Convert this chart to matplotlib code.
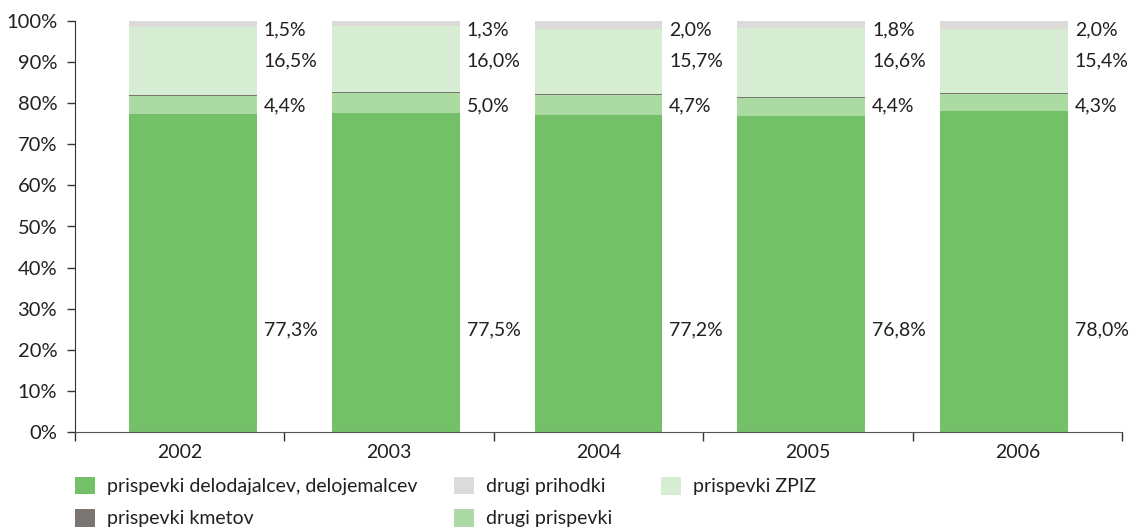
import matplotlib
matplotlib.use("Agg")
import matplotlib.pyplot as plt
from matplotlib.patches import Patch
import numpy as np

years = ["2002", "2003", "2004", "2005", "2006"]
delodajalci = [77.3, 77.5, 77.2, 76.8, 78.0]
kmetje = [0.3, 0.2, 0.4, 0.4, 0.3]
drugi_prispevki = [4.4, 5.0, 4.7, 4.4, 4.3]
zpiz = [16.5, 16.0, 15.7, 16.6, 15.4]
drugi_prihodki = [1.5, 1.3, 2.0, 1.8, 2.0]

names = {
    "del": "prispevki delodajalcev, delojemalcev",
    "kme": "prispevki kmetov",
    "dpr": "drugi prispevki",
    "zpiz": "prispevki ZPIZ",
    "dph": "drugi prihodki",
}
colors = {"del": "#74c069", "kme": "#7a7570", "dpr": "#abdba3",
          "zpiz": "#d6ecd3", "dph": "#dcdbda"}
values = {"del": delodajalci, "kme": kmetje, "dpr": drugi_prispevki,
          "zpiz": zpiz, "dph": drugi_prihodki}
stack_order = ["del", "dpr", "kme", "zpiz", "dph"]

TXT = "#231f20"
FS = 14
plt.rcParams["font.family"] = ["Lato", "DejaVu Sans"]
plt.rcParams["font.size"] = FS

W, H = 1129, 529
fig = plt.figure(figsize=(W / 100, H / 100), dpi=100)
ax = fig.add_axes([75 / W, 1 - 432 / H, 1047 / W, 411 / H])

n = len(years)
centers = 2.5 + (np.arange(n) - 2) * 0.968
width = 0.61

bottom = np.zeros(n)
for key in stack_order:
    ax.bar(centers, values[key], width=width, bottom=bottom,
           color=colors[key], linewidth=0)
    bottom += np.array(values[key])

# value labels to the right of each bar (kmetov share is not labelled)
label_y = {"del": 24.8, "dpr": 79.3, "zpiz": 90.3, "dph": 97.8}
for key, yy in label_y.items():
    for i in range(n):
        txt = f"{values[key][i]:.1f}%".replace(".", ",")
        ax.text(centers[i] + width / 2 + 0.033, yy, txt, ha="left", va="center",
                color=TXT, fontsize=FS)

ax.set_xlim(0, n)
ax.set_ylim(0, 100)
ax.set_yticks(np.arange(0, 101, 10))
ax.set_yticklabels([f"{v}%" for v in range(0, 101, 10)], color=TXT, fontsize=14.5)
ax.set_xticks(np.arange(0, n + 1))
ax.set_xticklabels([])
ax.set_xticks(np.arange(n) + 0.5, minor=True)
ax.set_xticklabels(years, minor=True, color=TXT)
ax.tick_params(axis="x", which="minor", length=0, pad=9)
ax.tick_params(axis="x", which="major", direction="out", length=6.5, width=1, color="#333333")
ax.tick_params(axis="y", direction="out", length=5.8, width=1, color="#333333", pad=7)

for s in ["top", "right"]:
    ax.spines[s].set_visible(False)
ax.spines["left"].set_color("#333333")
ax.spines["bottom"].set_color("#555555")

# legend in three columns
legend_cols = [(["del", "kme"], 75), (["dph", "dpr"], 454), (["zpiz"], 661)]
row1_y, row_gap = 486, 32
for keys, x0 in legend_cols:
    handles = [Patch(facecolor=colors[k], edgecolor="none") for k in keys]
    yc = row1_y + row_gap * (len(keys) - 1) / 2
    leg = fig.legend(handles, [names[k] for k in keys],
                     loc="center left", bbox_to_anchor=(x0 / W, 1 - yc / H),
                     frameon=False, borderpad=0, borderaxespad=0,
                     handlelength=1.03, handleheight=1.03, handletextpad=0.62,
                     labelspacing=0.7, fontsize=FS, labelcolor=TXT)

fig.savefig("out.png", dpi=100)
